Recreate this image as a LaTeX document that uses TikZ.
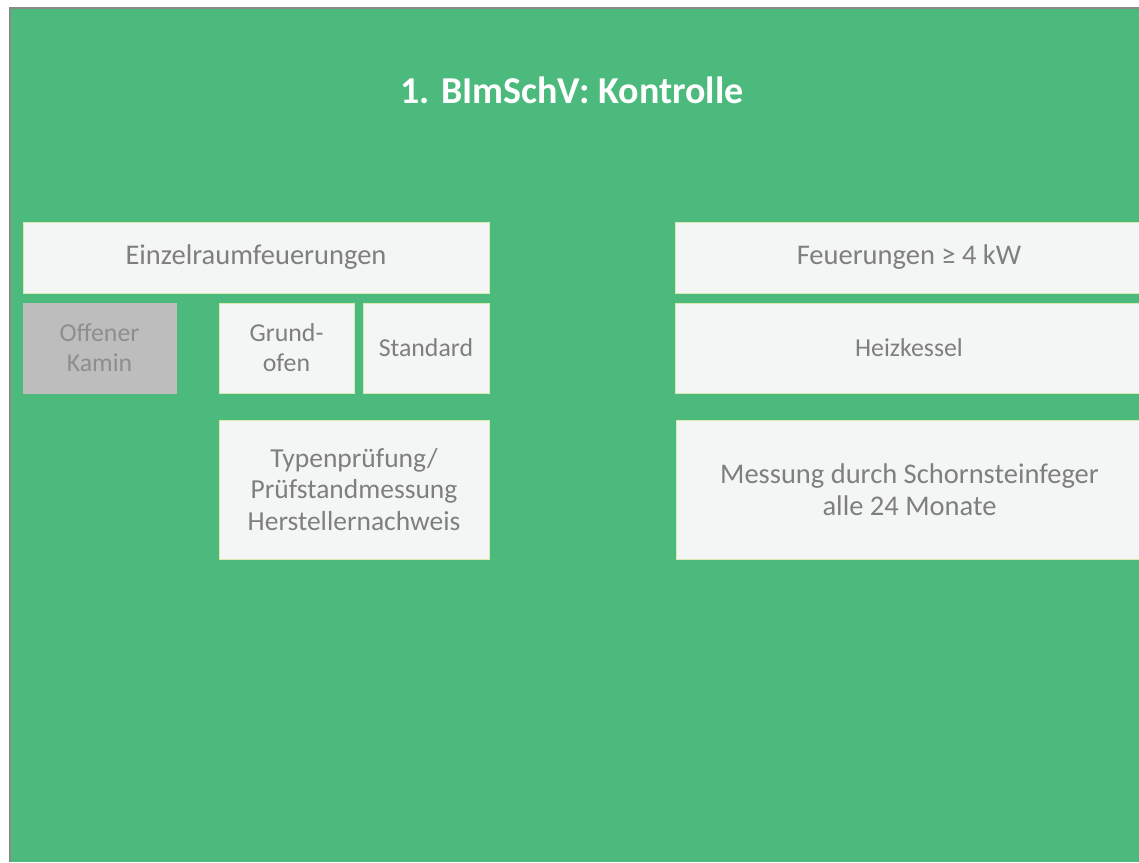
\documentclass[tikz,border=0pt]{standalone}
\usepackage{fontspec}
\setmainfont{Carlito}
\definecolor{bggreen}{HTML}{4BBA7C}
\definecolor{boxfill}{HTML}{F4F5F5}
\definecolor{boxline}{HTML}{D8EBB0}
\definecolor{txtgrey}{HTML}{7F7F7F}
\definecolor{kaminfill}{HTML}{BDBDBD}
\definecolor{kamintxt}{HTML}{8E8E8E}
\definecolor{frameline}{HTML}{8A8A8A}
\begin{document}
\begin{tikzpicture}[x=1pt,y=-1pt,
  panel/.style={draw=boxline,line width=0.8pt,fill=boxfill,text=txtgrey,
    font=\fontsize{28.5}{31}\selectfont,align=center,inner sep=0pt},
  small/.style={font=\fontsize{25.8}{30}\selectfont},
  kamin/.style={panel,small,fill=kaminfill,draw=kaminfill,text=kamintxt}]
\useasboundingbox (0,0) rectangle (1139,862);
\fill[white] (0,0) rectangle (1139,862);
\fill[bggreen] (10,8) rectangle (1139,862);
\draw[frameline,line width=1.5pt] (10,862) -- (10,8) -- (1139,8);
\node[text=white,font=\fontsize{38}{44}\selectfont\bfseries] (title) at (572,90) {1. BImSchV: Kontrolle};
% left
\node[panel,minimum width=466pt,minimum height=71pt] (einzel) at (256,257.5) {Einzelraumfeuerungen};
\node[kamin,minimum width=153pt,minimum height=90pt] (kamin) at (99.5,348) {Offener\\Kamin};
\node[panel,small,minimum width=135pt,minimum height=90pt] (grund) at (286.5,348) {Grund-\\ofen};
\node[panel,small,minimum width=126pt,minimum height=90pt] (standard) at (426,348) {Standard};
\node[panel,font=\fontsize{27.5}{31.5}\selectfont,minimum width=270pt,minimum height=139pt] (typ) at (354,489.5) {Typenprüfung/\\Prüfstandmessung\\Herstellernachweis};
% right
\node[panel,minimum width=468pt,minimum height=71pt] (feu) at (909,257.5) {Feuerungen ≥ 4 kW};
\node[panel,small,minimum width=468pt,minimum height=90pt] (heiz) at (909,348) {Heizkessel};
\node[panel,font=\fontsize{28.5}{32}\selectfont,minimum width=467pt,minimum height=139pt] (mess) at (909.5,489.5) {Messung durch Schornsteinfeger\\alle 24 Monate};
\end{tikzpicture}
\end{document}
